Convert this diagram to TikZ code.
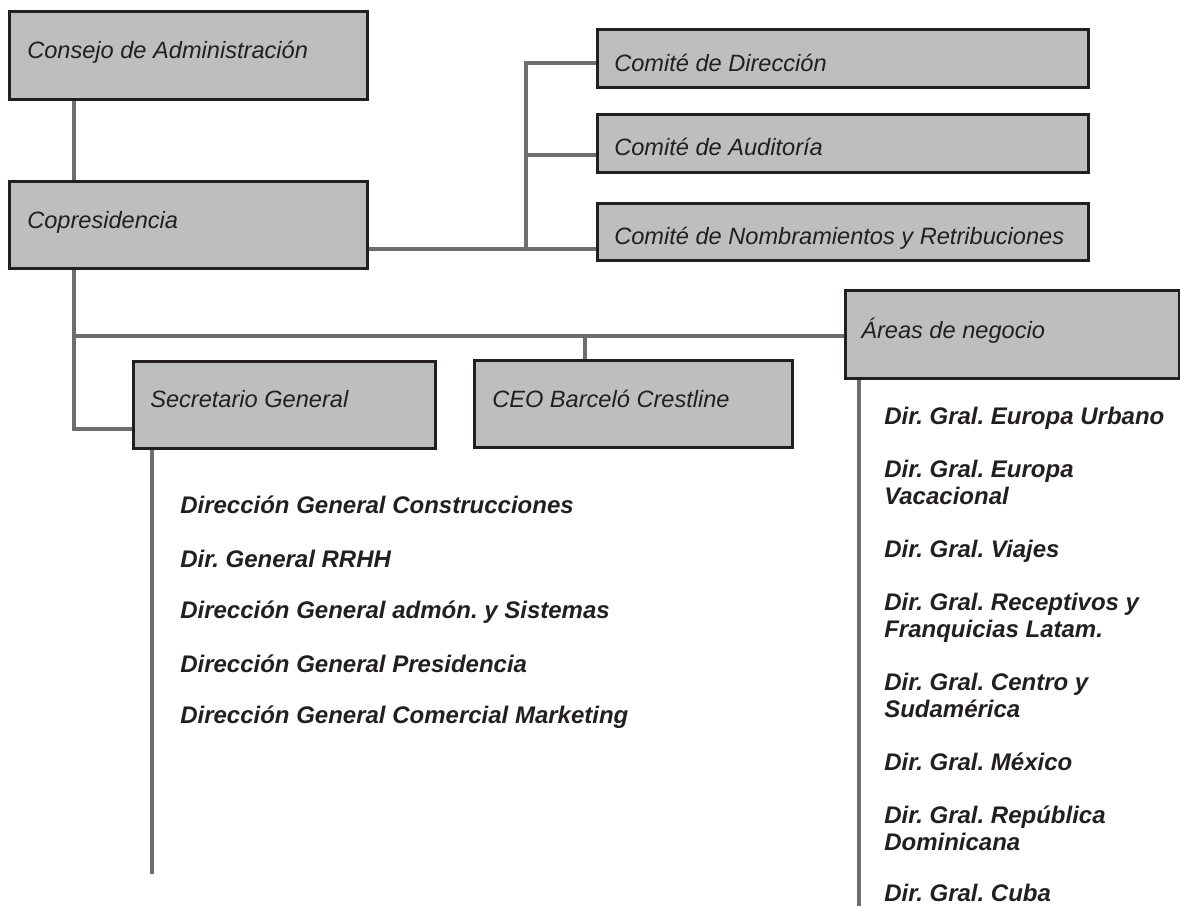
\documentclass[tikz,border=0pt]{standalone}
\usepackage{fontspec}
\setmainfont{Liberation Sans}
\frenchspacing
\definecolor{boxfill}{HTML}{BCBEC0}
\definecolor{boxline}{HTML}{231F20}
\definecolor{linkgray}{HTML}{6D6E71}
\definecolor{inktext}{HTML}{231F20}
\newlength\px
\setlength\px{0.75pt}
\begin{document}
\begin{tikzpicture}[x=0.75pt,y=-0.75pt,
  unitbox/.style={draw=boxline, fill=boxfill, line width=2.2pt, inner sep=0pt,
    anchor=north west},
  boxlabel/.style={anchor=base west, inner sep=0pt, text=inktext,
    font=\fontsize{17.7}{21}\selectfont\itshape},
  deptlist/.style={anchor=base west, inner sep=0pt, text=inktext, align=left,
    font=\fontsize{18}{20.25}\selectfont\bfseries\itshape},
  link/.style={draw=linkgray, line width=3.5pt}]
\useasboundingbox (0,0) rectangle (1180,906);

% guide columns and rows for the connectors
\coordinate (colL) at (74,0);
\coordinate (colC) at (526,0);
\coordinate (colCEO) at (585,0);
\coordinate (colS) at (152,0);
\coordinate (colA) at (859,0);
\coordinate (rowD) at (0,63);
\coordinate (rowAu) at (0,155);
\coordinate (rowN) at (0,249);
\coordinate (rowH) at (0,336);
\coordinate (rowS) at (0,429);
\coordinate (secrEnd) at (152,874);
\coordinate (areasEnd) at (859,906);

% boxes
\node[unitbox, minimum width=358\px, minimum height=88\px] (consejo) at (8,10) {};
\node[unitbox, minimum width=358\px, minimum height=87\px] (copres) at (8,180) {};
\node[unitbox, minimum width=491\px, minimum height=58\px] (comDir) at (596,28) {};
\node[unitbox, minimum width=491\px, minimum height=58\px] (comAud) at (596,113) {};
\node[unitbox, minimum width=491\px, minimum height=57\px] (comNom) at (596,202) {};
\node[unitbox, minimum width=302\px, minimum height=87\px] (secr) at (132,360) {};
\node[unitbox, minimum width=318\px, minimum height=87\px] (ceo) at (473,359) {};
\node[unitbox, minimum width=334\px, minimum height=88\px] (areas) at (844,289) {};

% connectors
\draw[link] (colL |- consejo.south) -- (colL |- copres.north);
\draw[link] (copres.east |- rowN) -- (comNom.west |- rowN);
\draw[link] (colC |- rowN) -- (colC |- rowD) -- (comDir.west |- rowD);
\draw[link] (colC |- rowAu) -- (comAud.west |- rowAu);
\draw[link] (colL |- copres.south) |- (secr.west |- rowS);
\draw[link] (colL |- rowH) -- (areas.west |- rowH);
\draw[link] (colCEO |- rowH) -- (colCEO |- ceo.north);
\draw[link] (colS |- secr.south) -- (secrEnd);
\draw[link] (colA |- areas.south) -- (areasEnd);

% box labels
\node[boxlabel] (tConsejo) at (27,59) {Consejo de Administración};
\node[boxlabel] (tCopres) at (27,228) {Copresidencia};
\node[boxlabel] (tDir) at (614,71) {Comité de Dirección};
\node[boxlabel] (tAud) at (614,155) {Comité de Auditoría};
\node[boxlabel] (tNom) at (614,244) {Comité de Nombramientos y Retribuciones};
\node[boxlabel] (tSecr) at (150,407) {Secretario General};
\node[boxlabel] (tCeo) at (492,407) {CEO Barceló Crestline};
\node[boxlabel] (tAreas) at (861,338) {Áreas de negocio};

% departments under the Secretario General
\node[deptlist] (s1) at (180,513) {Dirección General Construcciones};
\node[deptlist] (s2) at (180,567) {Dir. General RRHH};
\node[deptlist] (s3) at (180,618) {Dirección General admón. y Sistemas};
\node[deptlist] (s4) at (180,672) {Dirección General Presidencia};
\node[deptlist] (s5) at (180,723) {Dirección General Comercial Marketing};

% business area divisions (multi-line entries sit on their last baseline)
\node[deptlist] (a1) at (884,424) {Dir. Gral. Europa Urbano};
\node[deptlist] (a2) at (884,504) {Dir. Gral. Europa\\Vacacional};
\node[deptlist] (a3) at (884,557) {Dir. Gral. Viajes};
\node[deptlist] (a4) at (884,637) {Dir. Gral. Receptivos y\\Franquicias Latam.};
\node[deptlist] (a5) at (884,717) {Dir. Gral. Centro y\\Sudamérica};
\node[deptlist] (a6) at (884,770) {Dir. Gral. México};
\node[deptlist] (a7) at (884,850) {Dir. Gral. República\\Dominicana};
\node[deptlist] (a8) at (884,901) {Dir. Gral. Cuba};
\end{tikzpicture}
\end{document}
